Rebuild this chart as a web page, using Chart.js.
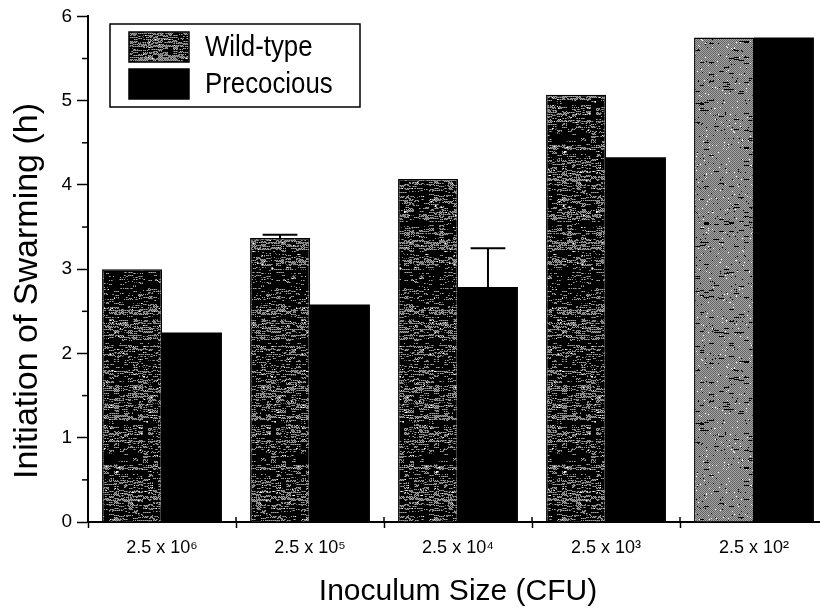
<!DOCTYPE html>
<html>
<head>
<meta charset="utf-8">
<script src="https://cdn.jsdelivr.net/npm/chart.js@4.4.1/dist/chart.umd.min.js"></script>
<style>
    html, body { margin: 0; padding: 0; background: #fff; overflow: hidden; }
    #wrap { width: 820px; height: 613px; overflow: hidden; }
    canvas { display: block; }
</style>
</head>
<body>
<div id="wrap"><canvas id="chart" width="840" height="613"></canvas></div>
<script>
// Data
const categories = ['2.5 x 10\u2076', '2.5 x 10\u2075', '2.5 x 10\u2074', '2.5 x 10\u00B3', '2.5 x 10\u00B2'];
const wildType = [3.0, 3.37, 4.07, 5.07, 5.75];
const wildTypeErr = [0, 0.04, 0, 0, 0];
const precocious = [2.25, 2.58, 2.79, 4.33, 5.75];
const precociousErr = [0, 0, 0.46, 0, 0];
const yTicks = [0, 1, 2, 3, 4, 5, 6];
const yTitle = 'Initiation of Swarming (h)';
const xTitle = 'Inoculum Size (CFU)';

// Streaky grey texture for the wild-type bars (deterministic hash, not data)
function hash(x, y, s) {
    let n = (x * 374761393 + y * 668265263 + s * 2147483647) | 0;
    n = Math.imul(n ^ (n >>> 13), 1274126177);
    return ((n ^ (n >>> 16)) >>> 0) / 4294967296;
}

function makeTexture(density, seed) {
    const c = document.createElement('canvas');
    c.width = 64;
    c.height = 320;
    const g = c.getContext('2d');
    const img = g.createImageData(c.width, c.height);
    for (let y = 0; y < c.height; y++) {
        const band = hash(0, Math.floor(y / 5), seed + 11);
        const rowD = density * (0.3 + 0.8 * band + 0.5 * hash(0, y, seed + 7));
        for (let x = 0; x < c.width; x++) {
            let v = ((x + y) % 2 === 0) ? 100 : 165;
            if (hash(Math.floor(x / 5), y, seed) < rowD) v = 0;
            else if (hash(x, y, seed + 3) < rowD * 0.5) v = 0;
            else if (hash(x, y, seed + 5) < 0.02) v = 255;
            const i = (y * c.width + x) * 4;
            img.data[i] = img.data[i + 1] = img.data[i + 2] = v;
            img.data[i + 3] = 255;
        }
    }
    g.putImageData(img, 0, 0);
    return c;
}

const ctx = document.getElementById('chart').getContext('2d');
const darkTex = ctx.createPattern(makeTexture(0.6, 1), 'repeat');
const lightTex = ctx.createPattern(makeTexture(0.04, 2), 'repeat');
const midTex = ctx.createPattern(makeTexture(0.3, 3), 'repeat');

const errorBars = {
    id: 'errorBars',
    afterDatasetsDraw(chart) {
        const c = chart.ctx;
        const y = chart.scales.y;
        const errs = [wildTypeErr, precociousErr];
        c.save();
        c.strokeStyle = '#000';
        c.lineWidth = 2;
        chart.data.datasets.forEach((ds, di) => {
            chart.getDatasetMeta(di).data.forEach((bar, i) => {
                const e = errs[di][i];
                if (!e) return;
                const top = y.getPixelForValue(ds.data[i] + e);
                const half = bar.width * 0.29;
                c.beginPath();
                c.moveTo(bar.x, bar.y);
                c.lineTo(bar.x, top);
                c.moveTo(bar.x - half, top);
                c.lineTo(bar.x + half, top);
                c.stroke();
            });
        });
        c.restore();
    }
};

const decorations = {
    id: 'decorations',
    afterDraw(chart) {
        const c = chart.ctx;
        const x = chart.scales.x;
        const y = chart.scales.y;
        const area = chart.chartArea;
        c.save();
        c.strokeStyle = '#000';
        c.fillStyle = '#000';

        // minor y ticks
        c.lineWidth = 1.5;
        for (let v = 0.5; v < 6; v += 1) {
            const py = y.getPixelForValue(v);
            c.beginPath();
            c.moveTo(area.left - 6, py);
            c.lineTo(area.left, py);
            c.stroke();
        }

        // x ticks cross the axis line
        const step = x.getPixelForValue(1) - x.getPixelForValue(0);
        for (let i = 0; i <= categories.length; i++) {
            const px = x.getPixelForValue(0) - step / 2 + i * step;
            c.beginPath();
            c.moveTo(px, area.bottom - 5);
            c.lineTo(px, area.bottom);
            c.stroke();
        }

        // y title
        c.font = '34px "Liberation Sans", Arial, sans-serif';
        c.textAlign = 'center';
        c.textBaseline = 'middle';
        c.translate(28, 291);
        c.rotate(-Math.PI / 2);
        c.fillText(yTitle, 0, 0);
        c.restore();

        // legend
        c.save();
        c.lineWidth = 1.5;
        c.strokeStyle = '#000';
        c.strokeRect(110, 24, 250, 83);
        const swatches = [midTex, '#000'];
        chart.data.datasets.forEach((ds, i) => {
            const sy = 32 + i * 37;
            c.fillStyle = swatches[i];
            c.fillRect(129, sy, 60, 30);
            c.lineWidth = 1.5;
            c.strokeRect(129, sy, 60, 30);
            c.save();
            c.fillStyle = '#000';
            c.font = '30px "Liberation Sans", Arial, sans-serif';
            c.textBaseline = 'middle';
            c.translate(205, sy + 16);
            c.scale(0.86, 1);
            c.fillText(ds.label, 0, 0);
            c.restore();
        });
        c.restore();
    }
};

new Chart(ctx, {
    type: 'bar',
    data: {
        labels: categories,
        datasets: [{
            label: 'Wild-type',
            data: wildType,
            backgroundColor: [darkTex, darkTex, darkTex, darkTex, lightTex],
            borderColor: '#000',
            borderWidth: 1.5,
            borderSkipped: 'start'
        }, {
            label: 'Precocious',
            data: precocious,
            backgroundColor: '#000',
            borderWidth: 0
        }]
    },
    options: {
        responsive: false,
        animation: false,
        devicePixelRatio: 1,
        layout: {
            padding: { top: 16, right: 12, left: 0, bottom: 0 }
        },
        plugins: {
            legend: { display: false },
            tooltip: { enabled: false }
        },
        datasets: {
            bar: {
                categoryPercentage: 0.81,
                barPercentage: 1.0
            }
        },
        scales: {
            x: {
                offset: true,
                afterFit(scale) { scale.height = 91; },
                grid: {
                    offset: true,
                    drawOnChartArea: false,
                    tickLength: 6,
                    tickWidth: 1.5,
                    tickColor: '#000'
                },
                border: { display: true, color: '#000', width: 2 },
                ticks: {
                    color: '#000',
                    padding: 9,
                    font: { family: '"Liberation Sans", Arial, sans-serif', size: 18 }
                },
                title: {
                    display: true,
                    text: xTitle,
                    color: '#000',
                    padding: { top: 0, bottom: 3 },
                    font: { family: '"Liberation Sans", Arial, sans-serif', size: 30 }
                }
            },
            y: {
                min: yTicks[0],
                max: yTicks[yTicks.length - 1],
                afterFit(scale) { scale.width = 88; },
                grid: {
                    drawOnChartArea: false,
                    tickLength: 11,
                    tickWidth: 1.5,
                    tickColor: (c) => (c.tick && yTicks.includes(c.tick.value)) ? '#000' : 'rgba(0,0,0,0)'
                },
                border: { display: true, color: '#000', width: 2 },
                ticks: {
                    stepSize: 0.5,
                    color: '#000',
                    padding: 5,
                    font: { family: '"Liberation Sans", Arial, sans-serif', size: 19 },
                    callback: (v) => yTicks.includes(v) ? String(v) : ''
                }
            }
        }
    },
    plugins: [errorBars, decorations]
});
</script>
</body>
</html>
